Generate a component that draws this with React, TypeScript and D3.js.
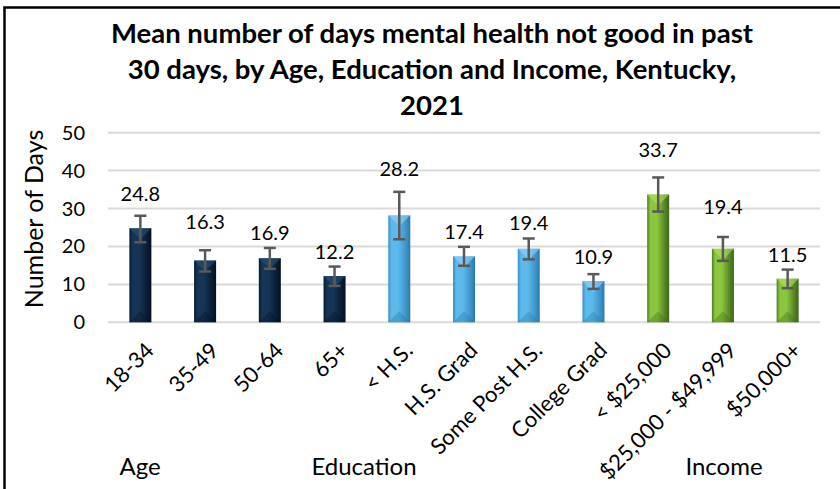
import React from "react";
import * as d3 from "d3";

const categories = ["18-34", "35-49", "50-64", "65+", "< H.S.", "H.S. Grad", "Some Post H.S.", "College Grad", "< $25,000", "$25,000 - $49,999", "$50,000+"];
const groups = ["Age", "Age", "Age", "Age", "Education", "Education", "Education", "Education", "Income", "Income", "Income"];
const values = [24.8, 16.3, 16.9, 12.2, 28.2, 17.4, 19.4, 10.9, 33.7, 19.4, 11.5];
const errLow = [21.1, 13.4, 14.1, 9.6, 21.9, 14.9, 16.6, 8.8, 29.2, 16.2, 9.0];
const errHigh = [28.1, 19.0, 19.6, 14.7, 34.4, 19.9, 22.1, 12.7, 38.2, 22.5, 13.9];
const yTicks = [0, 10, 20, 30, 40, 50];
const groupLabels = ["Age", "Education", "Income"];
const titleLines = [
  "Mean number of days mental health not good in past",
  "30 days, by Age, Education and Income, Kentucky,",
  "2021",
];

// styling (label lift above error-bar top, px)
const labelLift = [22, 28, 15, 15, 23, 15, 15, 17, 27, 30, 15];
const groupPos: Record<string, number> = { Age: 140, Education: 364, Income: 724 };
const palette: Record<string, { edge: string; mid: string; light: string; dark: string }> = {
  Age: { edge: "#071a30", mid: "#163456", light: "#2e5478", dark: "#041020" },
  Education: { edge: "#3a8fc4", mid: "#5cb9ec", light: "#9ad6f8", dark: "#2b76a8" },
  Income: { edge: "#4f7d22", mid: "#8cc63f", light: "#b4e06a", dark: "#3e6619" },
};

const FONT = "Lato, 'Open Sans', sans-serif";

export default function App() {
  const W = 840, H = 489;
  const x = d3.scaleBand<string>().domain(categories).range([108, 820]).paddingInner(0.66).paddingOuter(0.33);
  const y = d3.scaleLinear().domain([0, 50]).range([322.3, 132.7]);
  const bw = x.bandwidth();

  return (
    <svg width={W} height={H} style={{ position: "absolute", left: 0, top: 0, background: "#fff" }} fontFamily={FONT}>
      <defs>
        {Object.entries(palette).map(([k, c]) => (
          <linearGradient key={k} id={"g" + k} x1="0" x2="1" y1="0" y2="0">
            <stop offset="0" stopColor={c.edge} />
            <stop offset="0.15" stopColor={c.mid} />
            <stop offset="0.45" stopColor={c.mid} />
            <stop offset="0.85" stopColor={c.edge} />
            <stop offset="1" stopColor={c.dark} />
          </linearGradient>
        ))}
      </defs>
      <rect x={0} y={0} width={W} height={H} fill="#fff" />
      <rect x={4.5} y={7.5} width={W + 20} height={H + 20} fill="none" stroke="#000" strokeWidth={2.5} />

      {titleLines.map((t, i) => (
        <text key={i} x={432} y={43 + i * 36} textAnchor="middle" fontSize={27.5} fontWeight="bold" fill="#000">{t}</text>
      ))}

      {yTicks.map((t) => (
        <g key={t}>
          <line x1={108} x2={820} y1={y(t)} y2={y(t)} stroke="#d9d9d9" strokeWidth={2} />
          <text x={85} y={y(t)} dy="0.35em" textAnchor="end" fontSize={20} fill="#000">{t}</text>
        </g>
      ))}

      <text transform="translate(43,219) rotate(-90)" textAnchor="middle" fontSize={25} fill="#000">Number of Days</text>

      {categories.map((c, i) => {
        const g = groups[i];
        const col = palette[g];
        const x0 = x(c)!;
        const cx = x0 + bw / 2;
        const yt = y(values[i]);
        const yb = y(0);
        const bev = Math.min(bw / 2, (yb - yt) / 2);
        return (
          <g key={c}>
            <rect x={x0} y={yt} width={bw} height={yb - yt} fill={`url(#g${g})`} />
            <path d={`M${x0},${yt}L${x0 + bw},${yt}L${cx},${yt + bev}Z`} fill={col.light} opacity={0.55} />
            <path d={`M${x0},${yb}L${x0 + bw},${yb}L${cx},${yb - bev}Z`} fill={col.dark} opacity={0.35} />
            <line x1={cx} x2={cx} y1={y(errLow[i])} y2={y(errHigh[i])} stroke="#595959" strokeWidth={2.5} />
            <line x1={cx - 6} x2={cx + 6} y1={y(errLow[i])} y2={y(errLow[i])} stroke="#595959" strokeWidth={2.5} />
            <line x1={cx - 6} x2={cx + 6} y1={y(errHigh[i])} y2={y(errHigh[i])} stroke="#595959" strokeWidth={2.5} />
            <text x={cx} y={y(errHigh[i]) - labelLift[i]} dy="0.35em" textAnchor="middle" fontSize={20} fill="#000">{values[i].toFixed(1)}</text>
            <text transform={`translate(${cx + 4},${341}) rotate(-45)`} dy="0.7em" textAnchor="end" fontSize={22} fill="#000">{c}</text>
          </g>
        );
      })}

      {groupLabels.map((g) => (
        <text key={g} x={groupPos[g]} y={475} textAnchor="middle" fontSize={24} fill="#000">{g}</text>
      ))}
    </svg>
  );
}
